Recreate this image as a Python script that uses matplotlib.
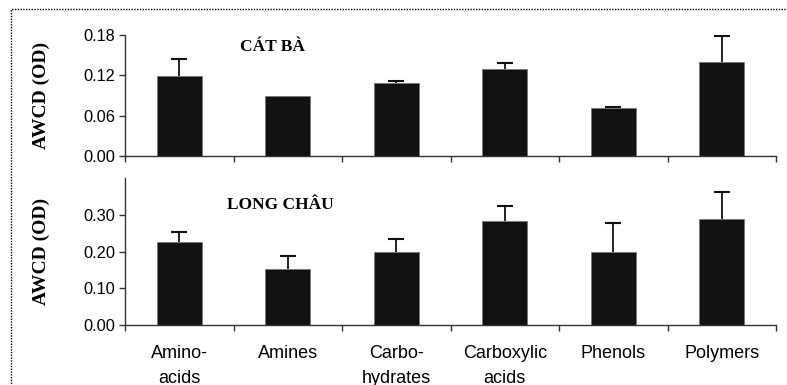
import matplotlib
matplotlib.use("Agg")
import matplotlib.pyplot as plt
from matplotlib.patches import Rectangle

categories = ["Amino-\nacids", "Amines", "Carbo-\nhydrates", "Carboxylic\nacids", "Phenols", "Polymers"]

cat_ba_mean = [0.119, 0.089, 0.108, 0.130, 0.072, 0.140]
cat_ba_err = [0.025, 0.0, 0.004, 0.008, 0.0005, 0.039]

long_chau_mean = [0.227, 0.152, 0.199, 0.283, 0.199, 0.288]
long_chau_err = [0.027, 0.036, 0.036, 0.042, 0.078, 0.073]

W, H = 787, 385
fig = plt.figure(figsize=(W / 100, H / 100), dpi=100)

# dotted frame around the whole figure (runs off right/bottom edges)
fig.patches.append(Rectangle((10.5 / W, -0.05), 1.1, 1 - 8.5 / H + 0.05,
                             transform=fig.transFigure, fill=False,
                             edgecolor="black", linestyle=(0, (1, 1)), linewidth=1.0))

bar_color = "#111111"
axis_color = "#333333"
serif = ["Liberation Serif", "DejaVu Serif"]
sans = ["Liberation Sans", "DejaVu Sans"]


def style_axes(ax, ymax, yticks):
    ax.set_xlim(-0.5, 5.5)
    ax.set_ylim(0, ymax)
    for side in ("top", "right"):
        ax.spines[side].set_visible(False)
    for side in ("left", "bottom"):
        ax.spines[side].set_color(axis_color)
        ax.spines[side].set_linewidth(1.0)
    ax.set_yticks(yticks)
    ax.set_yticklabels(["%.2f" % v for v in yticks], family=sans, fontsize=11.8)
    ax.set_xticks([i - 0.5 for i in range(7)])
    ax.set_xticklabels([])
    ax.tick_params(axis="both", which="major", direction="out", length=4,
                   width=1.0, color=axis_color, pad=3)
    ax.set_ylabel("AWCD (OD)", family=serif, fontweight="bold", fontsize=14)
    ax.yaxis.set_label_coords(-75 / 651, 0.5)


def draw_bars(ax, means, errs):
    x = list(range(len(means)))
    ax.bar(x, means, width=0.415, color=bar_color, edgecolor="#777777", linewidth=0.6)
    xe = [i for i, e in zip(x, errs) if e > 0]
    lo = [m for m, e in zip(means, errs) if e > 0]
    hi = [m + e for m, e in zip(means, errs) if e > 0]
    ax.vlines(xe, lo, hi, color=bar_color, linewidth=1.3)
    ax.plot(xe, hi, linestyle="none", marker="_", markersize=12,
            markeredgewidth=1.5, color=bar_color)


ax1 = fig.add_axes([125 / W, 1 - 156 / H, (776 - 125) / W, (156 - 35) / H])
draw_bars(ax1, cat_ba_mean, cat_ba_err)
style_axes(ax1, 0.18, [0.0, 0.06, 0.12, 0.18])
fig.text(273 / W, 1 - 47 / H, "CÁT BÀ", family=serif, fontweight="bold",
         fontsize=12.5, ha="center", va="center")

ax2 = fig.add_axes([125 / W, 1 - 325.3 / H, (776 - 125) / W, (325.3 - 178) / H])
draw_bars(ax2, long_chau_mean, long_chau_err)
style_axes(ax2, 0.40, [0.0, 0.1, 0.2, 0.3])
ax2.set_xticks(list(range(len(categories))), minor=True)
ax2.set_xticklabels(categories, minor=True, family=sans, fontsize=13, linespacing=1.6)
ax2.tick_params(axis="x", which="minor", length=0, pad=14)
fig.text(280 / W, 1 - 205 / H, "LONG CHÂU", family=serif, fontweight="bold",
         fontsize=12.5, ha="center", va="center")

fig.savefig("out.png", dpi=100)
